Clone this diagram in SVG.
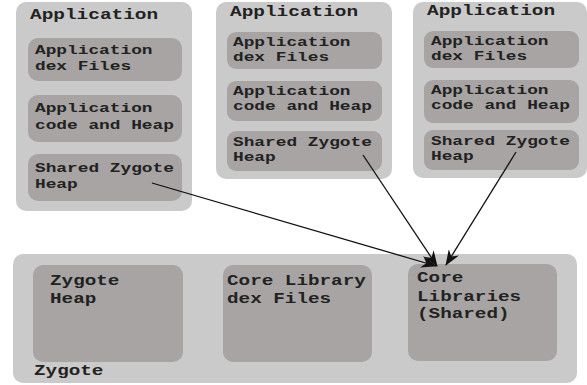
<svg xmlns="http://www.w3.org/2000/svg" width="587" height="385" viewBox="0 0 587 385">
<defs>
<style>
.outer{fill:#cbcaca;}
.inner{fill:#a7a4a3;}
text{font-family:"Liberation Mono","Courier New",monospace;font-weight:bold;fill:#222;}
.t{font-size:14.5px;}
.s{font-size:13.2px;}
.c{stroke:#111;stroke-width:1.3;fill:none;marker-end:url(#ah);}
</style>
<marker id="ah" viewBox="0 0 16 12" refX="15" refY="6" markerWidth="16" markerHeight="12" markerUnits="userSpaceOnUse" orient="auto">
<path d="M0,0 L16,6 L0,12 L5,6 Z" fill="#111"/>
</marker>
</defs>
<rect width="587" height="385" fill="#fff"/>

<g id="app1">
<rect class="outer" x="16" y="2" width="176" height="209" rx="10"/>
<text class="t" transform="translate(30,19) scale(1.34,1)">Application</text>
<g id="app1-dex"><rect class="inner" x="28" y="38" width="154" height="43" rx="10"/>
<text class="s" transform="translate(35,54) scale(1.35,1)">Application</text><text class="s" transform="translate(35,70) scale(1.35,1)">dex Files</text></g>
<g id="app1-code"><rect class="inner" x="28" y="95" width="154" height="47" rx="10"/>
<text class="s" transform="translate(35,112) scale(1.35,1)">Application</text><text class="s" transform="translate(35,129) scale(1.35,1)">code and Heap</text></g>
<g id="app1-shared"><rect class="inner" x="28" y="154" width="154" height="47" rx="10"/>
<text class="s" transform="translate(35,172) scale(1.35,1)">Shared Zygote</text><text class="s" transform="translate(35,188) scale(1.35,1)">Heap</text></g>
</g>

<g id="app2">
<rect class="outer" x="216" y="2" width="176" height="177" rx="10"/>
<text class="t" transform="translate(230,16) scale(1.34,1)">Application</text>
<g id="app2-dex"><rect class="inner" x="227" y="32" width="155" height="37" rx="9"/>
<text class="s" transform="translate(233,46) scale(1.35,1)">Application</text><text class="s" transform="translate(233,61) scale(1.35,1)">dex Files</text></g>
<g id="app2-code"><rect class="inner" x="227" y="81" width="155" height="40" rx="9"/>
<text class="s" transform="translate(233,95) scale(1.35,1)">Application</text><text class="s" transform="translate(233,110) scale(1.35,1)">code and Heap</text></g>
<g id="app2-shared"><rect class="inner" x="227" y="131" width="155" height="40" rx="9"/>
<text class="s" transform="translate(233,146) scale(1.35,1)">Shared Zygote</text><text class="s" transform="translate(233,161) scale(1.35,1)">Heap</text></g>
</g>

<g id="app3">
<rect class="outer" x="413" y="2" width="174" height="176" rx="10"/>
<text class="t" transform="translate(427,15) scale(1.34,1)">Application</text>
<g id="app3-dex"><rect class="inner" x="424" y="31" width="155" height="37" rx="9"/>
<text class="s" transform="translate(431,45) scale(1.35,1)">Application</text><text class="s" transform="translate(431,60) scale(1.35,1)">dex Files</text></g>
<g id="app3-code"><rect class="inner" x="424" y="80" width="155" height="43" rx="9"/>
<text class="s" transform="translate(431,94) scale(1.35,1)">Application</text><text class="s" transform="translate(431,109) scale(1.35,1)">code and Heap</text></g>
<g id="app3-shared"><rect class="inner" x="424" y="130" width="155" height="40" rx="9"/>
<text class="s" transform="translate(431,145) scale(1.35,1)">Shared Zygote</text><text class="s" transform="translate(431,160) scale(1.35,1)">Heap</text></g>
</g>

<g id="zygote">
<rect class="outer" x="13" y="254" width="564" height="129" rx="10"/>
<text class="t" transform="translate(34,375) scale(1.33,1)">Zygote</text>
<g id="zygote-heap"><rect class="inner" x="33" y="265" width="150" height="97" rx="10"/>
<text class="t" transform="translate(50,285) scale(1.33,1)">Zygote</text><text class="t" transform="translate(50,303) scale(1.33,1)">Heap</text></g>
<g id="core-dex"><rect class="inner" x="223" y="265" width="149" height="97" rx="10"/>
<text class="t" transform="translate(227,285) scale(1.33,1)">Core Library</text><text class="t" transform="translate(227,303) scale(1.33,1)">dex Files</text></g>
<g id="core-libs"><rect class="inner" x="408" y="264" width="149" height="97" rx="10"/>
<text class="t" transform="translate(417,282) scale(1.33,1)">Core</text><text class="t" transform="translate(417,301) scale(1.33,1)">Libraries</text><text class="t" transform="translate(417,318) scale(1.33,1)">(Shared)</text></g>
</g>

<g id="connectors">
<line class="c" x1="152" y1="183" x2="436" y2="266"/>
<line class="c" x1="363" y1="155" x2="437" y2="266"/>
<line class="c" x1="516" y1="152" x2="446" y2="265"/>
</g>
</svg>
